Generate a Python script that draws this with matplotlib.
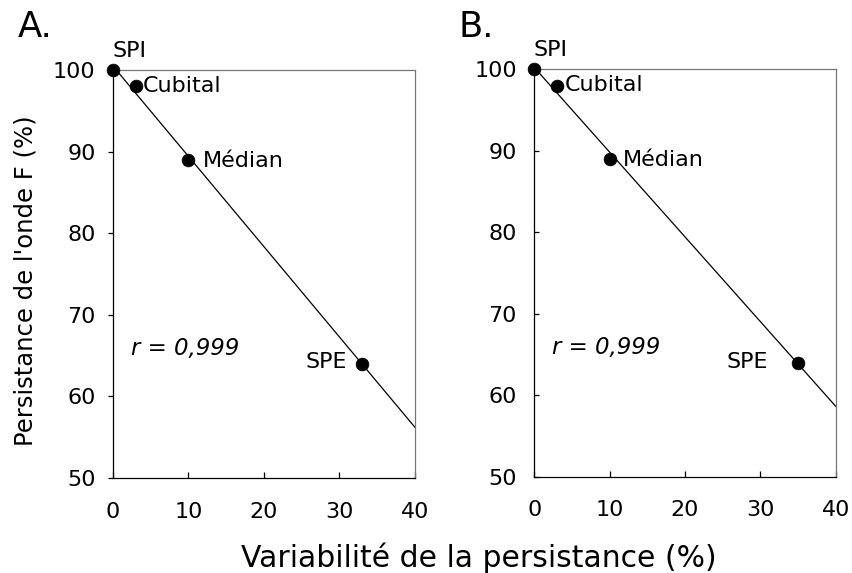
import numpy as np
import matplotlib
matplotlib.use("Agg")
import matplotlib.pyplot as plt

plt.rcParams['font.family'] = ['DejaVu Sans']

labels = ["SPI", "Cubital", "Médian", "SPE"]
x_A = [0, 3, 10, 33]
y_A = [100, 98, 89, 64]
x_B = [0, 3, 10, 35]
y_B = [100, 98, 89, 64]
r_text = "r = 0,999"
panel_titles = ["A.", "B."]
x_ticks = [0, 10, 20, 30, 40]
y_ticks = [50, 60, 70, 80, 90, 100]

W, H = 853, 573
fig = plt.figure(figsize=(W / 100, H / 100), dpi=100)
axA = fig.add_axes([113 / W, 1 - 478 / H, 302 / W, 408 / H])
axB = fig.add_axes([534.3 / W, 1 - 476.7 / H, 301.4 / W, 407.4 / H])

# label offsets in pixels (dx, dy to baseline, ha); dy positive = up
offs_A = [(0, 13, 'left'), (7, -5.5, 'left'), (14.5, -7, 'left'), (-15, -4.5, 'right')]
offs_B = [(-1, 13, 'left'), (8, -5.5, 'left'), (13.5, -7, 'left'), (-30, -5, 'right')]

for ax, xs, ys, offs, yt_dir in [(axA, x_A, y_A, offs_A, 'out'), (axB, x_B, y_B, offs_B, 'in')]:
    slope, icpt = np.polyfit(xs, ys, 1)
    xl = np.array([0, 40])
    ax.plot(xl, icpt + slope * xl, color='black', lw=0.9)
    ax.plot(xs, ys, 'o', color='black', ms=9.2, mew=0.5, clip_on=False, zorder=5)
    for lab, xv, yv, (dx, dy, ha) in zip(labels, xs, ys, offs):
        ax.annotate(lab, (xv, yv), xytext=(dx * 0.72, dy * 0.72), textcoords='offset points',
                    ha=ha, va='baseline', fontsize=16, annotation_clip=False)
    ax.text(2.4, 65.9, r_text, fontstyle='italic', fontsize=16.5, ha='left', va='center')
    ax.set_xlim(0, 40)
    ax.set_ylim(50, 100)
    ax.set_xticks(x_ticks)
    ax.set_yticks(y_ticks)
    ax.tick_params(axis='x', direction='in', length=4, width=0.9, pad=17, labelsize=16)
    ax.tick_params(axis='y', direction=yt_dir, length=3.5, width=0.9,
                   pad=(9 if yt_dir == 'out' else 12.5), labelsize=16)
    ax.spines['left'].set_color('black')
    ax.spines['bottom'].set_color('black')
    ax.spines['top'].set_color('#777777')
    ax.spines['right'].set_color('#777777')
    for s in ax.spines.values():
        s.set_linewidth(0.9)

fig.text(18 / W, 1 - 36.7 / H, panel_titles[0], fontsize=25.5, ha='left', va='baseline')
fig.text(459 / W, 1 - 36.7 / H, panel_titles[1], fontsize=25.5, ha='left', va='baseline')

fig.text(478.5 / W, 1 - 567 / H, "Variabilité de la persistance (%)", fontsize=21.5,
         ha='center', va='baseline')
fig.text(26 / W, 1 - 281 / H, "Persistance de l'onde F (%)", fontsize=17.5,
         ha='center', va='center', rotation=90)

fig.savefig("out.png", dpi=100)
